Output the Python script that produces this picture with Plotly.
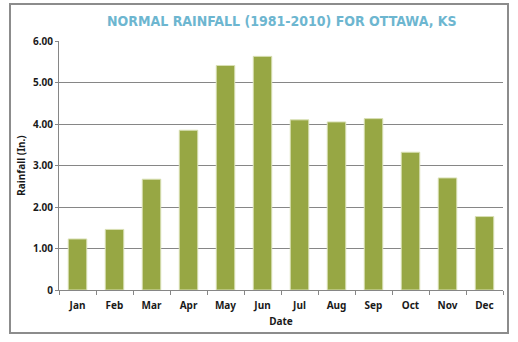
import plotly.graph_objects as go

months = ["Jan", "Feb", "Mar", "Apr", "May", "Jun", "Jul", "Aug", "Sep", "Oct", "Nov", "Dec"]
rainfall = [1.23, 1.46, 2.67, 3.85, 5.41, 5.63, 4.10, 4.05, 4.13, 3.32, 2.70, 1.77]
ytick_vals = [0, 1, 2, 3, 4, 5, 6]
ytick_text = ["0", "1.00", "2.00", "3.00", "4.00", "5.00", "6.00"]

fig = go.Figure()
fig.add_trace(go.Bar(
    x=months, y=rainfall,
    marker=dict(color="#97A744", line=dict(color="#D9E0B4", width=1)),
))

tickfont = dict(family="Noto Sans", size=10, color="#1a1a1a", weight="bold")
fig.update_layout(
    width=518, height=342,
    margin=dict(l=59, r=15, t=41, b=52, autoexpand=False),
    paper_bgcolor="white", plot_bgcolor="white",
    bargap=0.5, showlegend=False,
    xaxis=dict(
        showline=True, linecolor="#868686", linewidth=1,
        ticks="outside", ticklen=4, tickcolor="#868686", tickson="boundaries",
        ticklabelstandoff=6, automargin=False,
        tickfont=tickfont,
        title=dict(text="Date", font=tickfont, standoff=6),
    ),
    yaxis=dict(
        range=[0, 6], tickvals=ytick_vals, ticktext=ytick_text,
        showline=True, linecolor="#868686", linewidth=1,
        ticks="outside", ticklen=3, tickcolor="#868686",
        showgrid=True, gridcolor="#868686", gridwidth=1,
        zeroline=False, automargin=False,
        tickfont=tickfont,
        title=dict(text="Rainfall (In.)", font=tickfont, standoff=5),
    ),
    shapes=[dict(type="rect", xref="paper", yref="paper",
                 x0=(10 - 59) / 444, x1=(508 - 59) / 444,
                 y0=(290 - 333) / 249, y1=(290 - 4) / 249,
                 line=dict(color="#8C8C8C", width=2), layer="below")],
    annotations=[dict(
        text="NORMAL RAINFALL (1981-2010) FOR OTTAWA, KS",
        xref="paper", yref="paper",
        x=(282 - 59) / 444, y=(290 - 21) / 249,
        xanchor="center", yanchor="middle", showarrow=False,
        font=dict(family="DejaVu Sans Condensed", size=14, color="#6DB6D0", weight="bold"),
    )],
)

fig.write_html("out.html")
